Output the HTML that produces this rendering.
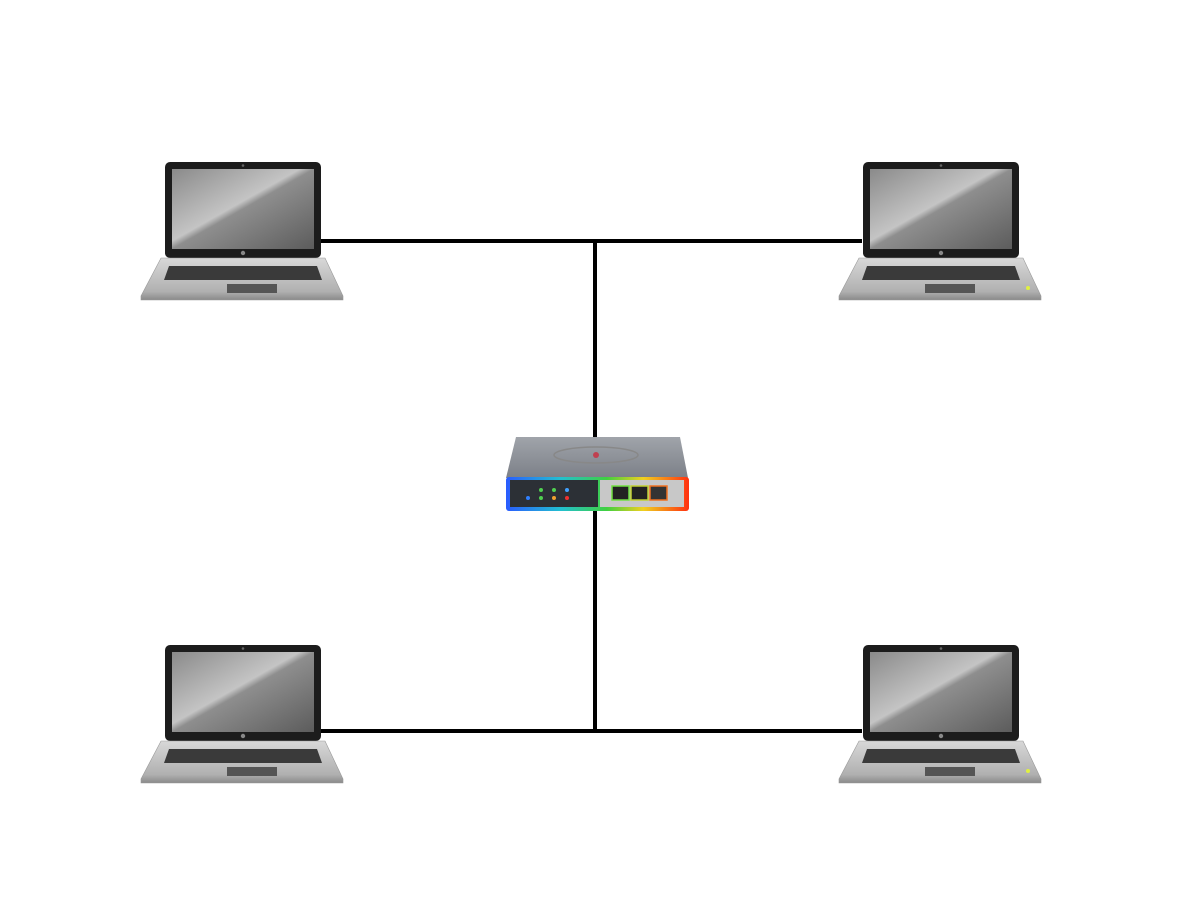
<!DOCTYPE html>
<html><head><meta charset="utf-8"><style>body{margin:0;background:#fff}svg{display:block}</style></head>
<body>
<svg width="1200" height="900" viewBox="0 0 1200 900" xmlns="http://www.w3.org/2000/svg">
<defs>
<linearGradient id="scr" x1="0" y1="0" x2="1" y2="1">
<stop offset="0" stop-color="#8a8a8a"/><stop offset="0.45" stop-color="#c4c4c4"/><stop offset="0.5" stop-color="#8e8e8e"/><stop offset="1" stop-color="#5c5c5c"/></linearGradient>
<linearGradient id="base" x1="0" y1="0" x2="0" y2="1">
<stop offset="0" stop-color="#d8d8d8"/><stop offset="0.8" stop-color="#b0b0b0"/><stop offset="1" stop-color="#8a8a8a"/></linearGradient>
<linearGradient id="rb" x1="0" y1="0" x2="1" y2="0">
<stop offset="0" stop-color="#2a5cff"/><stop offset="0.3" stop-color="#22c0d0"/><stop offset="0.55" stop-color="#40d040"/><stop offset="0.75" stop-color="#f0d020"/><stop offset="1" stop-color="#ff3010"/></linearGradient>
<linearGradient id="top" x1="0" y1="0" x2="0" y2="1">
<stop offset="0" stop-color="#a0a4aa"/><stop offset="1" stop-color="#7c8088"/></linearGradient>
<g id="lap">
<rect x="24" y="0" width="156" height="96" rx="5" fill="#1c1c1c"/>
<rect x="31" y="7" width="142" height="80" fill="url(#scr)"/>
<circle cx="102" cy="3.5" r="1.3" fill="#666"/>
<circle cx="102" cy="91" r="2.2" fill="#888"/>
<path d="M20 96 L184 96 L202 134 L202 138 L0 138 L0 134 Z" fill="url(#base)" stroke="#999" stroke-width="0.6"/>
<path d="M28 104 L176 104 L181 118 L23 118 Z" fill="#3a3a3a"/>
<rect x="86" y="122" width="50" height="9" fill="#555"/>
</g>
</defs>
<g stroke="#000" stroke-width="4" fill="none">
<line x1="320" y1="241" x2="862" y2="241"/>
<line x1="320" y1="731" x2="862" y2="731"/>
<line x1="595" y1="241" x2="595" y2="440"/>
<line x1="595" y1="508" x2="595" y2="731"/>
</g>
<use href="#lap" x="141" y="162"/>
<use href="#lap" x="839" y="162"/>
<use href="#lap" x="141" y="645"/>
<use href="#lap" x="839" y="645"/>
<circle cx="1028" cy="288" r="2" fill="#e0f040"/>
<circle cx="1028" cy="771" r="2" fill="#e0f040"/>
<!-- switch -->
<path d="M516 437 L680 437 L688 478 L506 478 Z" fill="url(#top)"/>
<ellipse cx="596" cy="455" rx="42" ry="8" fill="none" stroke="#888" stroke-width="1.5"/>
<circle cx="596" cy="455" r="3" fill="#c04050"/>
<rect x="506" y="477" width="183" height="34" rx="3" fill="url(#rb)"/>
<rect x="510" y="480" width="88" height="27" fill="#2c3036"/>
<rect x="600" y="480" width="84" height="27" fill="#c8c8c8"/>
<rect x="612" y="486" width="17" height="14" fill="#222" stroke="#70e040" stroke-width="1.5"/>
<rect x="631" y="486" width="17" height="14" fill="#222" stroke="#c0d030" stroke-width="1.5"/>
<rect x="650" y="486" width="17" height="14" fill="#333" stroke="#f07020" stroke-width="1.5"/>
<g>
<circle cx="541" cy="490" r="2" fill="#50d050"/><circle cx="554" cy="490" r="2" fill="#50d050"/><circle cx="567" cy="490" r="2" fill="#40a0ff"/>
<circle cx="528" cy="498" r="2" fill="#3080ff"/><circle cx="541" cy="498" r="2" fill="#50d050"/><circle cx="554" cy="498" r="2" fill="#f0a030"/><circle cx="567" cy="498" r="2" fill="#f03030"/>
</g>
</svg>
</body></html>
